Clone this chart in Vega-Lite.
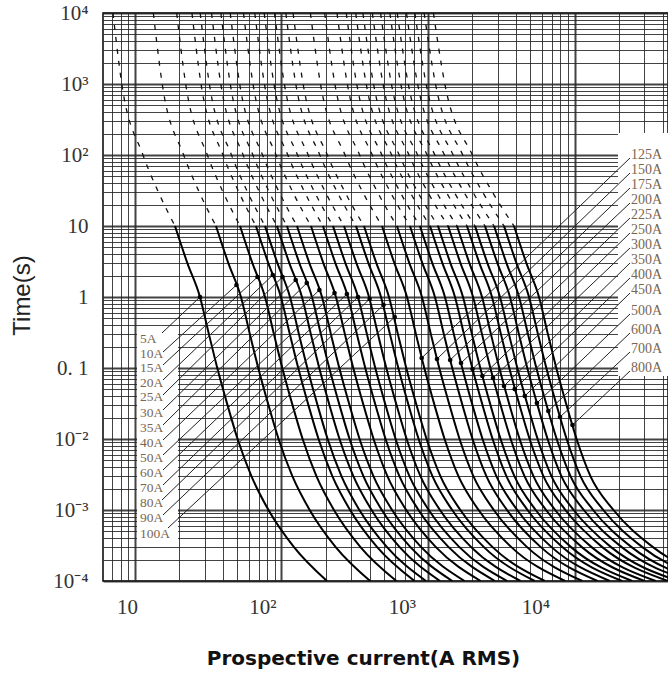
{
"$schema":"https://vega.github.io/schema/vega-lite/v6.json",
"width":565,"height":568,
"autosize":{"type":"none"},
"padding":{"left":103,"top":13,"right":0,"bottom":93},
"background":"white",
"view":{"stroke":"#000","strokeWidth":1.5},
"datasets":{
"box":[{"i":10.32,"i2":19.66,"t":0.3428,"t2":0.000343},{"i":19812,"i2":60000,"t":204.1,"t2":0.07715}],
"solid":[
{"r":"5A","i":18.75,"t":10},{"r":"5A","i":22.78,"t":3},{"r":"5A","i":27.77,"t":1},{"r":"5A","i":31.95,"t":0.3},{"r":"5A","i":36.45,"t":0.1},{"r":"5A","i":42.81,"t":0.03},{"r":"5A","i":50.16,"t":0.01},{"r":"5A","i":62.31,"t":0.003},{"r":"5A","i":81.51,"t":0.001},{"r":"5A","i":121.7,"t":0.0003},{"r":"5A","i":204.4,"t":0.0001},
{"r":"10A","i":35.7,"t":10},{"r":"10A","i":43.38,"t":3},{"r":"10A","i":52.87,"t":1},{"r":"10A","i":60.83,"t":0.3},{"r":"10A","i":69.4,"t":0.1},{"r":"10A","i":81.5,"t":0.03},{"r":"10A","i":95.5,"t":0.01},{"r":"10A","i":118.6,"t":0.003},{"r":"10A","i":155.7,"t":0.001},{"r":"10A","i":234.4,"t":0.0003},{"r":"10A","i":402.9,"t":0.0001},
{"r":"15A","i":52.1,"t":10},{"r":"15A","i":63.3,"t":3},{"r":"15A","i":77.16,"t":1},{"r":"15A","i":88.78,"t":0.3},{"r":"15A","i":101.3,"t":0.1},{"r":"15A","i":118.9,"t":0.03},{"r":"15A","i":139.4,"t":0.01},{"r":"15A","i":173.1,"t":0.003},{"r":"15A","i":228.1,"t":0.001},{"r":"15A","i":346.1,"t":0.0003},{"r":"15A","i":609.0,"t":0.0001},
{"r":"20A","i":66.9,"t":10},{"r":"20A","i":81.28,"t":3},{"r":"20A","i":99.08,"t":1},{"r":"20A","i":114.0,"t":0.3},{"r":"20A","i":130.1,"t":0.1},{"r":"20A","i":152.7,"t":0.03},{"r":"20A","i":179.0,"t":0.01},{"r":"20A","i":222.3,"t":0.003},{"r":"20A","i":293.9,"t":0.001},{"r":"20A","i":449.6,"t":0.0003},{"r":"20A","i":809.8,"t":0.0001},
{"r":"25A","i":77.2,"t":10},{"r":"25A","i":93.8,"t":3},{"r":"25A","i":114.3,"t":1},{"r":"25A","i":131.5,"t":0.3},{"r":"25A","i":150.1,"t":0.1},{"r":"25A","i":176.2,"t":0.03},{"r":"25A","i":206.5,"t":0.01},{"r":"25A","i":256.5,"t":0.003},{"r":"25A","i":340.3,"t":0.001},{"r":"25A","i":524.9,"t":0.0003},{"r":"25A","i":967.7,"t":0.0001},
{"r":"30A","i":93.1,"t":10},{"r":"30A","i":113.1,"t":3},{"r":"30A","i":137.9,"t":1},{"r":"30A","i":158.6,"t":0.3},{"r":"30A","i":181.0,"t":0.1},{"r":"30A","i":212.5,"t":0.03},{"r":"30A","i":249.0,"t":0.01},{"r":"30A","i":309.4,"t":0.003},{"r":"30A","i":411.8,"t":0.001},{"r":"30A","i":640.4,"t":0.0003},{"r":"30A","i":1209,"t":0.0001},
{"r":"35A","i":109.0,"t":10},{"r":"35A","i":132.4,"t":3},{"r":"35A","i":161.4,"t":1},{"r":"35A","i":185.7,"t":0.3},{"r":"35A","i":211.9,"t":0.1},{"r":"35A","i":248.8,"t":0.03},{"r":"35A","i":291.6,"t":0.01},{"r":"35A","i":362.2,"t":0.003},{"r":"35A","i":483.9,"t":0.001},{"r":"35A","i":758.6,"t":0.0003},{"r":"35A","i":1465,"t":0.0001},
{"r":"40A","i":127.6,"t":10},{"r":"40A","i":155.0,"t":3},{"r":"40A","i":189.0,"t":1},{"r":"40A","i":217.4,"t":0.3},{"r":"40A","i":248.1,"t":0.1},{"r":"40A","i":291.3,"t":0.03},{"r":"40A","i":341.3,"t":0.01},{"r":"40A","i":424.0,"t":0.003},{"r":"40A","i":568.5,"t":0.001},{"r":"40A","i":898.4,"t":0.0003},{"r":"40A","i":1776,"t":0.0001},
{"r":"50A","i":158.9,"t":10},{"r":"50A","i":193.1,"t":3},{"r":"50A","i":235.3,"t":1},{"r":"50A","i":270.8,"t":0.3},{"r":"50A","i":308.9,"t":0.1},{"r":"50A","i":362.8,"t":0.03},{"r":"50A","i":425.1,"t":0.01},{"r":"50A","i":528.0,"t":0.003},{"r":"50A","i":710.3,"t":0.001},{"r":"50A","i":1132,"t":0.0003},{"r":"50A","i":2290,"t":0.0001},
{"r":"60A","i":191.9,"t":10},{"r":"60A","i":233.2,"t":3},{"r":"60A","i":284.2,"t":1},{"r":"60A","i":327.0,"t":0.3},{"r":"60A","i":373.1,"t":0.1},{"r":"60A","i":438.1,"t":0.03},{"r":"60A","i":513.3,"t":0.01},{"r":"60A","i":637.7,"t":0.003},{"r":"60A","i":860.8,"t":0.001},{"r":"60A","i":1383,"t":0.0003},{"r":"60A","i":2864,"t":0.0001},
{"r":"70A","i":224.7,"t":10},{"r":"70A","i":273.0,"t":3},{"r":"70A","i":332.8,"t":1},{"r":"70A","i":382.9,"t":0.3},{"r":"70A","i":436.8,"t":0.1},{"r":"70A","i":513.0,"t":0.03},{"r":"70A","i":601.1,"t":0.01},{"r":"70A","i":746.7,"t":0.003},{"r":"70A","i":1012,"t":0.001},{"r":"70A","i":1638,"t":0.0003},{"r":"70A","i":3473,"t":0.0001},
{"r":"80A","i":267.2,"t":10},{"r":"80A","i":324.6,"t":3},{"r":"80A","i":395.7,"t":1},{"r":"80A","i":455.3,"t":0.3},{"r":"80A","i":519.4,"t":0.1},{"r":"80A","i":610.0,"t":0.03},{"r":"80A","i":714.8,"t":0.01},{"r":"80A","i":887.9,"t":0.003},{"r":"80A","i":1207,"t":0.001},{"r":"80A","i":1971,"t":0.0003},{"r":"80A","i":4278,"t":0.0001},
{"r":"90A","i":322.6,"t":10},{"r":"90A","i":392.0,"t":3},{"r":"90A","i":477.8,"t":1},{"r":"90A","i":549.7,"t":0.3},{"r":"90A","i":627.1,"t":0.1},{"r":"90A","i":736.5,"t":0.03},{"r":"90A","i":863.0,"t":0.01},{"r":"90A","i":1072,"t":0.003},{"r":"90A","i":1462,"t":0.001},{"r":"90A","i":2408,"t":0.0003},{"r":"90A","i":5348,"t":0.0001},
{"r":"100A","i":365.6,"t":10},{"r":"100A","i":444.2,"t":3},{"r":"100A","i":541.5,"t":1},{"r":"100A","i":623.0,"t":0.3},{"r":"100A","i":710.7,"t":0.1},{"r":"100A","i":834.7,"t":0.03},{"r":"100A","i":978.0,"t":0.01},{"r":"100A","i":1215,"t":0.003},{"r":"100A","i":1663,"t":0.001},{"r":"100A","i":2760,"t":0.0003},{"r":"100A","i":6276,"t":0.0001},
{"r":"125A","i":485.3,"t":10},{"r":"125A","i":589.6,"t":3},{"r":"125A","i":718.7,"t":1},{"r":"125A","i":827.0,"t":0.3},{"r":"125A","i":943.4,"t":0.1},{"r":"125A","i":1108,"t":0.03},{"r":"125A","i":1298,"t":0.01},{"r":"125A","i":1613,"t":0.003},{"r":"125A","i":2215,"t":0.001},{"r":"125A","i":3707,"t":0.0003},{"r":"125A","i":8628,"t":0.0001},
{"r":"150A","i":614,"t":10},{"r":"150A","i":746.0,"t":3},{"r":"150A","i":909.3,"t":1},{"r":"150A","i":1046,"t":0.3},{"r":"150A","i":1194,"t":0.1},{"r":"150A","i":1402,"t":0.03},{"r":"150A","i":1642,"t":0.01},{"r":"150A","i":2040,"t":0.003},{"r":"150A","i":2813,"t":0.001},{"r":"150A","i":4746,"t":0.0003},{"r":"150A","i":11304,"t":0.0001},
{"r":"175A","i":753,"t":10},{"r":"175A","i":914.9,"t":3},{"r":"175A","i":1115,"t":1},{"r":"175A","i":1283,"t":0.3},{"r":"175A","i":1464,"t":0.1},{"r":"175A","i":1719,"t":0.03},{"r":"175A","i":2014,"t":0.01},{"r":"175A","i":2502,"t":0.003},{"r":"175A","i":3461,"t":0.001},{"r":"175A","i":5889,"t":0.0003},{"r":"175A","i":14347,"t":0.0001},
{"r":"200A","i":881,"t":10},{"r":"200A","i":1070,"t":3},{"r":"200A","i":1305,"t":1},{"r":"200A","i":1501,"t":0.3},{"r":"200A","i":1713,"t":0.1},{"r":"200A","i":2011,"t":0.03},{"r":"200A","i":2357,"t":0.01},{"r":"200A","i":2928,"t":0.003},{"r":"200A","i":4064,"t":0.001},{"r":"200A","i":6970,"t":0.0003},{"r":"200A","i":17391,"t":0.0001},
{"r":"225A","i":1032,"t":10},{"r":"225A","i":1254,"t":3},{"r":"225A","i":1528,"t":1},{"r":"225A","i":1759,"t":0.3},{"r":"225A","i":2006,"t":0.1},{"r":"225A","i":2356,"t":0.03},{"r":"225A","i":2761,"t":0.01},{"r":"225A","i":3429,"t":0.003},{"r":"225A","i":4777,"t":0.001},{"r":"225A","i":8258,"t":0.0003},{"r":"225A","i":21092,"t":0.0001},
{"r":"250A","i":1170,"t":10},{"r":"250A","i":1422,"t":3},{"r":"250A","i":1733,"t":1},{"r":"250A","i":1994,"t":0.3},{"r":"250A","i":2274,"t":0.1},{"r":"250A","i":2671,"t":0.03},{"r":"250A","i":3130,"t":0.01},{"r":"250A","i":3888,"t":0.003},{"r":"250A","i":5435,"t":0.001},{"r":"250A","i":9476,"t":0.0003},{"r":"250A","i":24766,"t":0.0001},
{"r":"300A","i":1371,"t":10},{"r":"300A","i":1666,"t":3},{"r":"300A","i":2030,"t":1},{"r":"300A","i":2336,"t":0.3},{"r":"300A","i":2665,"t":0.1},{"r":"300A","i":3130,"t":0.03},{"r":"300A","i":3667,"t":0.01},{"r":"300A","i":4556,"t":0.003},{"r":"300A","i":6391,"t":0.001},{"r":"300A","i":11229,"t":0.0003},{"r":"300A","i":30052,"t":0.0001},
{"r":"350A","i":1578,"t":10},{"r":"350A","i":1917,"t":3},{"r":"350A","i":2337,"t":1},{"r":"350A","i":2689,"t":0.3},{"r":"350A","i":3068,"t":0.1},{"r":"350A","i":3603,"t":0.03},{"r":"350A","i":4221,"t":0.01},{"r":"350A","i":5244,"t":0.003},{"r":"350A","i":7382,"t":0.001},{"r":"350A","i":13078,"t":0.0003},{"r":"350A","i":35828,"t":0.0001},
{"r":"400A","i":1846,"t":10},{"r":"400A","i":2243,"t":3},{"r":"400A","i":2734,"t":1},{"r":"400A","i":3146,"t":0.3},{"r":"400A","i":3589,"t":0.1},{"r":"400A","i":4214,"t":0.03},{"r":"400A","i":4938,"t":0.01},{"r":"400A","i":6134,"t":0.003},{"r":"400A","i":8666,"t":0.001},{"r":"400A","i":15479,"t":0.0003},{"r":"400A","i":43381,"t":0.0001},
{"r":"450A","i":2094,"t":10},{"r":"450A","i":2544,"t":3},{"r":"450A","i":3101,"t":1},{"r":"450A","i":3568,"t":0.3},{"r":"450A","i":4071,"t":0.1},{"r":"450A","i":4781,"t":0.03},{"r":"450A","i":5601,"t":0.01},{"r":"450A","i":6958,"t":0.003},{"r":"450A","i":9865,"t":0.001},{"r":"450A","i":17762,"t":0.0003},{"r":"450A","i":50990,"t":0.0001},
{"r":"500A","i":2449,"t":10},{"r":"500A","i":2976,"t":3},{"r":"500A","i":3627,"t":1},{"r":"500A","i":4173,"t":0.3},{"r":"500A","i":4761,"t":0.1},{"r":"500A","i":5591,"t":0.03},{"r":"500A","i":6551,"t":0.01},{"r":"500A","i":8138,"t":0.003},{"r":"500A","i":11576,"t":0.001},{"r":"500A","i":21012,"t":0.0003},{"r":"500A","i":61717,"t":0.0001},
{"r":"600A","i":2825,"t":10},{"r":"600A","i":3432,"t":3},{"r":"600A","i":4184,"t":1},{"r":"600A","i":4814,"t":0.3},{"r":"600A","i":5492,"t":0.1},{"r":"600A","i":6449,"t":0.03},{"r":"600A","i":7557,"t":0.01},{"r":"600A","i":9388,"t":0.003},{"r":"600A","i":13400,"t":0.001},{"r":"600A","i":24531,"t":0.0003},{"r":"600A","i":73749,"t":0.0001},
{"r":"700A","i":3304,"t":10},{"r":"700A","i":4014,"t":3},{"r":"700A","i":4893,"t":1},{"r":"700A","i":5630,"t":0.3},{"r":"700A","i":6423,"t":0.1},{"r":"700A","i":7543,"t":0.03},{"r":"700A","i":8838,"t":0.01},{"r":"700A","i":10979,"t":0.003},{"r":"700A","i":15727,"t":0.001},{"r":"700A","i":29034,"t":0.0003},{"r":"700A","i":89314,"t":0.0001},
{"r":"800A","i":3864,"t":10},{"r":"800A","i":4695,"t":3},{"r":"800A","i":5723,"t":1},{"r":"800A","i":6584,"t":0.3},{"r":"800A","i":7512,"t":0.1},{"r":"800A","i":8821,"t":0.03},{"r":"800A","i":10336,"t":0.01},{"r":"800A","i":12840,"t":0.003},{"r":"800A","i":18460,"t":0.001},{"r":"800A","i":34331,"t":0.0003},{"r":"800A","i":108116,"t":0.0001}
],
"dash":[
{"r":"5A","i":7.075,"t":10000},{"r":"5A","i":8.125,"t":1000},{"r":"5A","i":11.34,"t":100},{"r":"5A","i":14.44,"t":30},{"r":"5A","i":18.75,"t":10},
{"r":"10A","i":13.34,"t":10000},{"r":"10A","i":15.34,"t":1000},{"r":"10A","i":21.49,"t":100},{"r":"10A","i":27.44,"t":30},{"r":"10A","i":35.7,"t":10},
{"r":"15A","i":19.25,"t":10000},{"r":"15A","i":22.18,"t":1000},{"r":"15A","i":31.18,"t":100},{"r":"15A","i":39.92,"t":30},{"r":"15A","i":52.1,"t":10},
{"r":"20A","i":24.47,"t":10000},{"r":"20A","i":28.23,"t":1000},{"r":"20A","i":39.85,"t":100},{"r":"20A","i":51.15,"t":30},{"r":"20A","i":66.9,"t":10},
{"r":"25A","i":27.86,"t":10000},{"r":"25A","i":32.19,"t":1000},{"r":"25A","i":45.6,"t":100},{"r":"25A","i":58.68,"t":30},{"r":"25A","i":77.2,"t":10},
{"r":"30A","i":33.29,"t":10000},{"r":"30A","i":38.52,"t":1000},{"r":"30A","i":54.75,"t":100},{"r":"30A","i":70.69,"t":30},{"r":"30A","i":93.1,"t":10},
{"r":"35A","i":38.56,"t":10000},{"r":"35A","i":44.7,"t":1000},{"r":"35A","i":63.77,"t":100},{"r":"35A","i":82.51,"t":30},{"r":"35A","i":109.0,"t":10},
{"r":"40A","i":44.66,"t":10000},{"r":"40A","i":51.84,"t":1000},{"r":"40A","i":74.26,"t":100},{"r":"40A","i":96.34,"t":30},{"r":"40A","i":127.6,"t":10},
{"r":"50A","i":54.98,"t":10000},{"r":"50A","i":63.92,"t":1000},{"r":"50A","i":91.88,"t":100},{"r":"50A","i":119.5,"t":30},{"r":"50A","i":158.9,"t":10},
{"r":"60A","i":65.69,"t":10000},{"r":"60A","i":76.47,"t":1000},{"r":"60A","i":110.4,"t":100},{"r":"60A","i":143.9,"t":30},{"r":"60A","i":191.9,"t":10},
{"r":"70A","i":76.17,"t":10000},{"r":"70A","i":88.84,"t":1000},{"r":"70A","i":128.7,"t":100},{"r":"70A","i":168.3,"t":30},{"r":"70A","i":224.7,"t":10},
{"r":"80A","i":89.57,"t":10000},{"r":"80A","i":104.6,"t":1000},{"r":"80A","i":152.1,"t":100},{"r":"80A","i":199.4,"t":30},{"r":"80A","i":267.2,"t":10},
{"r":"90A","i":107.0,"t":10000},{"r":"90A","i":125.2,"t":1000},{"r":"90A","i":182.6,"t":100},{"r":"90A","i":240.3,"t":30},{"r":"90A","i":322.6,"t":10},
{"r":"100A","i":119.9,"t":10000},{"r":"100A","i":140.5,"t":1000},{"r":"100A","i":205.6,"t":100},{"r":"100A","i":271.2,"t":30},{"r":"100A","i":365.6,"t":10},
{"r":"125A","i":157.4,"t":10000},{"r":"125A","i":184.6,"t":1000},{"r":"125A","i":271.5,"t":100},{"r":"125A","i":358.8,"t":30},{"r":"125A","i":485.3,"t":10},
{"r":"150A","i":197.0,"t":10000},{"r":"150A","i":231.4,"t":1000},{"r":"150A","i":341.5,"t":100},{"r":"150A","i":452.6,"t":30},{"r":"150A","i":614,"t":10},
{"r":"175A","i":239.1,"t":10000},{"r":"175A","i":281.4,"t":1000},{"r":"175A","i":416.8,"t":100},{"r":"175A","i":553.8,"t":30},{"r":"175A","i":753,"t":10},
{"r":"200A","i":276.6,"t":10000},{"r":"200A","i":326.1,"t":1000},{"r":"200A","i":484.5,"t":100},{"r":"200A","i":645.9,"t":30},{"r":"200A","i":881,"t":10},
{"r":"225A","i":320.8,"t":10000},{"r":"225A","i":378.6,"t":1000},{"r":"225A","i":564.9,"t":100},{"r":"225A","i":755.0,"t":30},{"r":"225A","i":1032,"t":10},
{"r":"250A","i":359.3,"t":10000},{"r":"250A","i":424.9,"t":1000},{"r":"250A","i":636.1,"t":100},{"r":"250A","i":852.4,"t":30},{"r":"250A","i":1170,"t":10},
{"r":"300A","i":416.8,"t":10000},{"r":"300A","i":493.4,"t":1000},{"r":"300A","i":741.6,"t":100},{"r":"300A","i":996.3,"t":30},{"r":"300A","i":1371,"t":10},
{"r":"350A","i":474.4,"t":10000},{"r":"350A","i":562.6,"t":1000},{"r":"350A","i":848.6,"t":100},{"r":"350A","i":1143,"t":30},{"r":"350A","i":1578,"t":10},
{"r":"400A","i":548.9,"t":10000},{"r":"400A","i":652.0,"t":1000},{"r":"400A","i":986.9,"t":100},{"r":"400A","i":1333,"t":30},{"r":"400A","i":1846,"t":10},
{"r":"450A","i":616.3,"t":10000},{"r":"450A","i":733.3,"t":1000},{"r":"450A","i":1114,"t":100},{"r":"450A","i":1509,"t":30},{"r":"450A","i":2094,"t":10},
{"r":"500A","i":712.8,"t":10000},{"r":"500A","i":849.4,"t":1000},{"r":"500A","i":1295,"t":100},{"r":"500A","i":1760,"t":30},{"r":"500A","i":2449,"t":10},
{"r":"600A","i":813.4,"t":10000},{"r":"600A","i":970.7,"t":1000},{"r":"600A","i":1486,"t":100},{"r":"600A","i":2024,"t":30},{"r":"600A","i":2825,"t":10},
{"r":"700A","i":941.0,"t":10000},{"r":"700A","i":1125,"t":1000},{"r":"700A","i":1728,"t":100},{"r":"700A","i":2359,"t":30},{"r":"700A","i":3304,"t":10},
{"r":"800A","i":1089,"t":10000},{"r":"800A","i":1303,"t":1000},{"r":"800A","i":2010,"t":100},{"r":"800A","i":2752,"t":30},{"r":"800A","i":3864,"t":10}
],
"lead":[
{"r":"5A","i":15.29,"t":0.3112},{"r":"5A","i":27.78,"t":1},
{"r":"10A","i":15.53,"t":0.168},{"r":"10A","i":49.29,"t":1.476},
{"r":"15A","i":15.53,"t":0.1102},{"r":"15A","i":68.58,"t":1.913},
{"r":"20A","i":15.53,"t":0.0678},{"r":"20A","i":87.22,"t":2.041},
{"r":"25A","i":15.53,"t":0.0417},{"r":"25A","i":101.6,"t":1.913},
{"r":"30A","i":15.53,"t":0.02562},{"r":"30A","i":125.0,"t":1.735},
{"r":"35A","i":15.53,"t":0.01575},{"r":"35A","i":148.8,"t":1.575},
{"r":"40A","i":15.53,"t":0.00968},{"r":"40A","i":181.4,"t":1.255},
{"r":"50A","i":15.53,"t":0.005952},{"r":"50A","i":230.1,"t":1.138},
{"r":"60A","i":15.53,"t":0.00366},{"r":"60A","i":279.5,"t":1.102},
{"r":"70A","i":15.53,"t":0.00225},{"r":"70A","i":332.8,"t":1},
{"r":"80A","i":15.29,"t":0.001383},{"r":"80A","i":399.4,"t":0.937},
{"r":"90A","i":15.53,"t":0.00085},{"r":"90A","i":496.8,"t":0.7715},
{"r":"100A","i":16.8,"t":0.000558},{"r":"100A","i":592.4,"t":0.5228},
{"r":"125A","i":23923,"t":90.7},{"r":"125A","i":905.8,"t":0.1384},
{"r":"150A","i":23923,"t":55.8},{"r":"150A","i":1152,"t":0.1339},
{"r":"175A","i":23923,"t":34.3},{"r":"175A","i":1417,"t":0.1297},
{"r":"200A","i":23923,"t":21.08},{"r":"200A","i":1680,"t":0.1176},
{"r":"225A","i":23923,"t":12.96},{"r":"225A","i":2013,"t":0.0968},
{"r":"250A","i":23923,"t":7.97},{"r":"250A","i":2351,"t":0.07715},
{"r":"300A","i":23923,"t":4.9},{"r":"300A","i":2778,"t":0.07231},
{"r":"350A","i":23923,"t":3.012},{"r":"350A","i":3302,"t":0.05579},
{"r":"400A","i":23923,"t":1.852},{"r":"400A","i":3907,"t":0.0506},
{"r":"450A","i":23923,"t":1.138},{"r":"450A","i":4580,"t":0.04031},
{"r":"500A","i":23923,"t":0.5763},{"r":"500A","i":5538,"t":0.03214},
{"r":"600A","i":23923,"t":0.3112},{"r":"600A","i":6625,"t":0.0248},
{"r":"700A","i":23923,"t":0.168},{"r":"700A","i":7962,"t":0.0204},
{"r":"800A","i":23923,"t":0.0907},{"r":"800A","i":9690,"t":0.01575}
],
"dots":[
{"r":"5A","i":27.78,"t":1},{"r":"10A","i":49.29,"t":1.476},{"r":"15A","i":68.58,"t":1.913},{"r":"20A","i":87.22,"t":2.041},{"r":"25A","i":101.6,"t":1.913},{"r":"30A","i":125.0,"t":1.735},{"r":"35A","i":148.8,"t":1.575},{"r":"40A","i":181.4,"t":1.255},{"r":"50A","i":230.1,"t":1.138},{"r":"60A","i":279.5,"t":1.102},{"r":"70A","i":332.8,"t":1},{"r":"80A","i":399.4,"t":0.937},{"r":"90A","i":496.8,"t":0.7715},{"r":"100A","i":592.4,"t":0.5228},
{"r":"125A","i":905.8,"t":0.1384},{"r":"150A","i":1152,"t":0.1339},{"r":"175A","i":1417,"t":0.1297},{"r":"200A","i":1680,"t":0.1176},{"r":"225A","i":2013,"t":0.0968},{"r":"250A","i":2351,"t":0.07715},{"r":"300A","i":2778,"t":0.07231},{"r":"350A","i":3302,"t":0.05579},{"r":"400A","i":3907,"t":0.0506},{"r":"450A","i":4580,"t":0.04031},{"r":"500A","i":5538,"t":0.03214},{"r":"600A","i":6625,"t":0.0248},{"r":"700A","i":7962,"t":0.0204},{"r":"800A","i":9690,"t":0.01575}
],
"lab":[
{"r":"5A","s":"L","i":10.82,"t":0.2562},{"r":"10A","s":"L","i":10.82,"t":0.1575},{"r":"15A","s":"L","i":10.82,"t":0.1},{"r":"20A","s":"L","i":10.82,"t":0.06147},{"r":"25A","s":"L","i":10.82,"t":0.03903},{"r":"30A","s":"L","i":10.82,"t":0.02324},{"r":"35A","s":"L","i":10.82,"t":0.01429},{"r":"40A","s":"L","i":10.82,"t":0.008785},{"r":"50A","s":"L","i":10.82,"t":0.0054},{"r":"60A","s":"L","i":10.82,"t":0.00332},{"r":"70A","s":"L","i":10.82,"t":0.00204},{"r":"80A","s":"L","i":10.82,"t":0.001255},{"r":"90A","s":"L","i":10.82,"t":0.000772},{"r":"100A","s":"L","i":10.82,"t":0.000459},
{"r":"125A","s":"R","i":24306,"t":100},{"r":"150A","s":"R","i":24306,"t":61.47},{"r":"175A","s":"R","i":24306,"t":37.81},{"r":"200A","s":"R","i":24306,"t":23.24},{"r":"225A","s":"R","i":24306,"t":14.29},{"r":"250A","s":"R","i":24306,"t":8.785},{"r":"300A","s":"R","i":24306,"t":5.4},{"r":"350A","s":"R","i":24306,"t":3.32},{"r":"400A","s":"R","i":24306,"t":2.041},{"r":"450A","s":"R","i":24306,"t":1.255},{"r":"500A","s":"R","i":24306,"t":0.635},{"r":"600A","s":"R","i":24306,"t":0.3428},{"r":"700A","s":"R","i":24306,"t":0.1852},{"r":"800A","s":"R","i":24306,"t":0.1}
]
},
"encoding":{
"x":{"field":"i","type":"quantitative",
 "scale":{"type":"log","domain":[6.048,43470],"nice":false,"zero":false},
 "axis":{"title":"Prospective current(A RMS)",
  "values":[7,8,9,10,20,30,40,50,60,70,80,90,100,200,300,400,500,600,700,800,900,1000,2000,3000,4000,5000,6000,7000,8000,9000,10000,20000,30000,40000],
  "ticks":false,"domain":false,"grid":true,
  "gridColor":"#222","gridOpacity":0.85,
  "gridWidth":{"condition":{"test":"abs(log(datum.value)/LN10 - round(log(datum.value)/LN10)) < 0.001","value":2},"value":1},
  "labelExpr":"abs(log(datum.value)/LN10 - round(log(datum.value)/LN10)) < 0.001 ? ['1','10','10²','10³','10⁴'][round(log(datum.value)/LN10)] : ''",
  "labelFont":"Liberation Serif","labelFontSize":21,"labelColor":"#333","labelPadding":15,
  "labelOverlap":false,"labelFlush":false,"labelBound":false,
  "labelOffset":{"condition":[{"test":"datum.value == 10","value":-8},{"test":"datum.value == 100","value":-19},{"test":"datum.value == 1000","value":-26},{"test":"datum.value == 10000","value":-39}],"value":0},
  "titleFont":"DejaVu Sans","titleFontWeight":"bold","titleFontSize":20,"titleColor":"#111",
  "titleX":260,"titleY":77,"titleBaseline":"middle","titleAlign":"center"}},
"y":{"field":"t","type":"quantitative",
 "scale":{"type":"log","domain":[0.0001,10000],"nice":false,"zero":false},
 "axis":{"title":"Time(s)",
  "values":[0.0001,0.0002,0.0003,0.0004,0.0005,0.0006,0.0007,0.0008,0.0009,0.001,0.002,0.003,0.004,0.005,0.006,0.007,0.008,0.009,0.01,0.02,0.03,0.04,0.05,0.06,0.07,0.08,0.09,0.1,0.2,0.3,0.4,0.5,0.6,0.7,0.8,0.9,1,2,3,4,5,6,7,8,9,10,20,30,40,50,60,70,80,90,100,200,300,400,500,600,700,800,900,1000,2000,3000,4000,5000,6000,7000,8000,9000,10000],
  "ticks":false,"domain":false,"grid":true,
  "gridColor":"#222","gridOpacity":0.85,
  "gridWidth":{"condition":{"test":"abs(log(datum.value)/LN10 - round(log(datum.value)/LN10)) < 0.001","value":2},"value":1},
  "labelExpr":"abs(log(datum.value)/LN10 - round(log(datum.value)/LN10)) < 0.001 ? ['10⁻⁴','10⁻³','10⁻²','0. 1','1','10','10²','10³','10⁴'][round(log(datum.value)/LN10)+4] : ''",
  "labelFont":"Liberation Serif","labelFontSize":21,"labelColor":"#333","labelPadding":15,
  "labelOverlap":false,"labelFlush":false,"labelBound":false,"labelBaseline":"middle",
  "titleFont":"Liberation Sans","titleFontWeight":"normal","titleFontSize":24,"titleColor":"#222",
  "titleX":-81,"titleY":282,"titleAngle":-90,"titleBaseline":"middle","titleAlign":"center"}}
},
"layer":[
{"data":{"name":"box"},"mark":{"type":"rect","fill":"white","stroke":null,"clip":true},
 "encoding":{"x2":{"field":"i2"},"y2":{"field":"t2"}}},
{"data":{"name":"dash"},"mark":{"type":"line","color":"#111","strokeWidth":1.3,"strokeDash":[5,7],"interpolate":"monotone","clip":true},
 "encoding":{"detail":{"field":"r"}}},
{"data":{"name":"solid"},"mark":{"type":"line","color":"#000","strokeWidth":2,"interpolate":"monotone","clip":true},
 "encoding":{"detail":{"field":"r"}}},
{"data":{"name":"lead"},"mark":{"type":"line","color":"#222","strokeWidth":1,"clip":true},
 "encoding":{"detail":{"field":"r"}}},
{"data":{"name":"dots"},"mark":{"type":"point","filled":true,"color":"#000","size":22,"opacity":1}},
{"data":{"name":"lab"},"transform":[{"filter":"datum.s == 'L'"}],
 "mark":{"type":"text","align":"left","baseline":"middle","font":"Liberation Serif","fontSize":13.5,"color":"#7a6650"},
 "encoding":{"text":{"field":"r"}}},
{"data":{"name":"lab"},"transform":[{"filter":"datum.s == 'R'"}],
 "mark":{"type":"text","align":"left","baseline":"middle","font":"Liberation Serif","fontSize":14,"color":"#7a6650"},
 "encoding":{"text":{"field":"r"}}}
]
}
